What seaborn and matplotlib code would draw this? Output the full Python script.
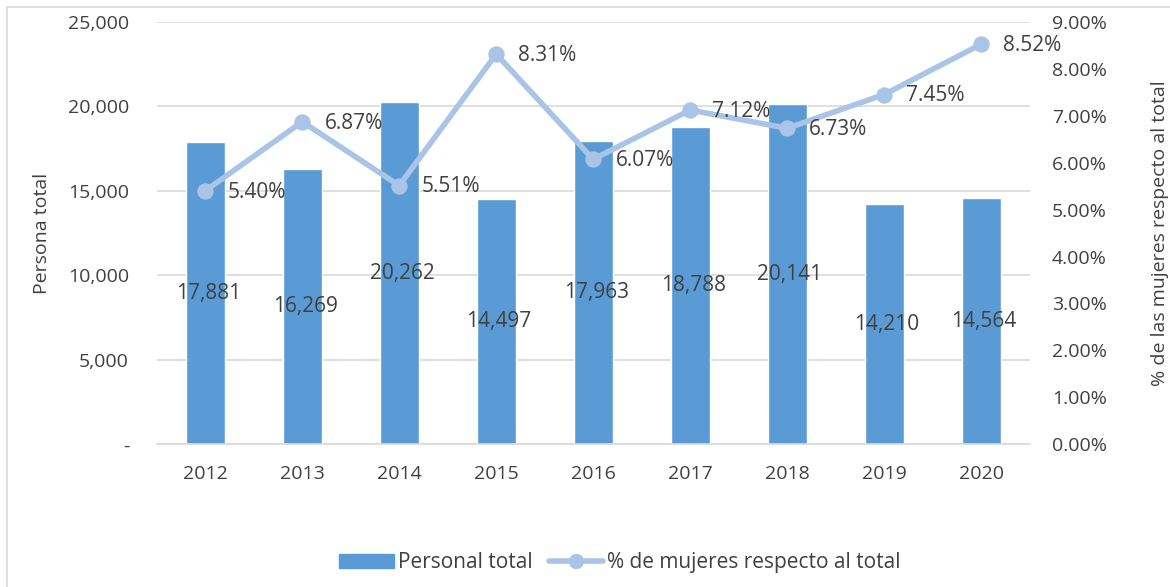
import matplotlib
matplotlib.use("Agg")
import matplotlib.pyplot as plt
import seaborn as sns
import pandas as pd
from matplotlib.lines import Line2D
from matplotlib.patches import Patch, Rectangle
from matplotlib.ticker import FuncFormatter

years = ["2012", "2013", "2014", "2015", "2016", "2017", "2018", "2019", "2020"]
personal_total = [17881, 16269, 20262, 14497, 17963, 18788, 20141, 14210, 14564]
pct_mujeres = [5.40, 6.87, 5.51, 8.31, 6.07, 7.12, 6.73, 7.45, 8.52]

bar_color = "#5B9BD5"
line_color = "#A9C4E6"
text_color = "#404040"
grid_color = "#D9D9D9"

sns.set_style("white")
plt.rcParams["font.family"] = ["Open Sans", "DejaVu Sans"]

df = pd.DataFrame({"year": years, "total": personal_total, "pct": pct_mujeres})

fig = plt.figure(figsize=(11.7, 5.87), dpi=100)
ax = fig.add_axes([0.134, 0.243, 0.746, 0.720])

sns.barplot(data=df, x="year", y="total", color=bar_color, width=0.40,
            saturation=1, ax=ax, zorder=2)
ax.set_ylim(0, 25000)
ax.set_yticks(range(0, 25001, 5000))
ax.yaxis.set_major_formatter(FuncFormatter(lambda v, p: "-" if v == 0 else f"{int(v):,}"))
ax.grid(axis="y", color=grid_color, linewidth=1.2, zorder=0)
ax.set_axisbelow(True)
for s in ["top", "right", "left"]:
    ax.spines[s].set_visible(False)
ax.spines["bottom"].set_color(grid_color)
ax.spines["bottom"].set_linewidth(1.2)
ax.tick_params(axis="y", length=0, labelsize=14, colors=text_color, pad=20)
ax.tick_params(axis="x", length=0, labelsize=14, colors=text_color, pad=15)
ax.set_xlabel("")
ax.set_ylabel("Persona total", fontsize=14, color=text_color, labelpad=12)

for i, v in enumerate(personal_total):
    ax.text(i + 0.03, v / 2, f"{v:,}", ha="center", va="center", fontsize=15, color=text_color, zorder=5)

ax2 = ax.twinx()
sns.lineplot(x=list(range(len(years))), y=pct_mujeres, ax=ax2, color=line_color,
             linewidth=4, marker="o", markersize=11, markeredgecolor=line_color, zorder=3)
ax2.set_ylim(0, 9)
ax2.set_yticks(range(0, 10))
ax2.yaxis.set_major_formatter(FuncFormatter(lambda v, p: f"{v:.2f}%"))
for s in ["top", "right", "left", "bottom"]:
    ax2.spines[s].set_visible(False)
ax2.tick_params(axis="y", length=0, labelsize=14, colors=text_color, pad=16)
ax2.set_ylabel("% de las mujeres respecto al total", fontsize=14, color=text_color, labelpad=32)
ax2.set_xlim(-0.5, len(years) - 0.5)

for i, v in enumerate(pct_mujeres):
    ax2.annotate(f"{v:.2f}%", (i, v), xytext=(16, -1), textcoords="offset points",
                 ha="left", va="center", fontsize=15, color=text_color)

handles = [Patch(facecolor=bar_color, edgecolor=bar_color),
           Line2D([0], [0], color=line_color, linewidth=4, marker="o", markersize=10)]
fig.legend(handles, ["Personal total", "% de mujeres respecto al total"],
           loc="center", bbox_to_anchor=(0.53, 0.041), ncol=2, frameon=False,
           fontsize=15, labelcolor=text_color, handlelength=2.6, columnspacing=0.8,
           handletextpad=0.2)

fig.patches.append(Rectangle((7 / 1170, -0.02), 1.02, 1 - 7 / 587 + 0.02,
                             transform=fig.transFigure, fill=False,
                             edgecolor=grid_color, linewidth=1.2))

fig.savefig("out.png", dpi=100)
